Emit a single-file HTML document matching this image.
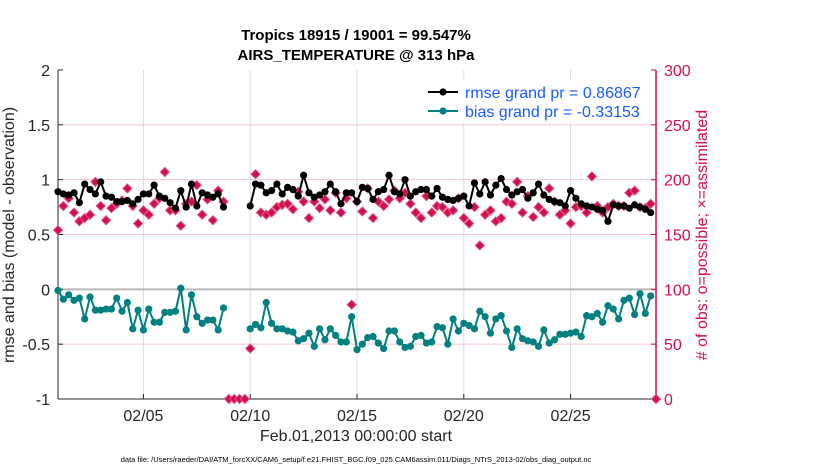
<!DOCTYPE html>
<html><head><meta charset="utf-8"><style>
body{margin:0;background:#fff;font-family:"Liberation Sans",sans-serif;}
</style></head><body>
<svg id="c" width="830" height="470" xmlns="http://www.w3.org/2000/svg" font-family="Liberation Sans, sans-serif"></svg>
<script>
const xTickLabels=["02/05","02/10","02/15","02/20","02/25"];
const xTickDays=[4,9,14,19,24];
const yLeftTicks=[-1,-0.5,0,0.5,1,1.5,2];
const yRightTicks=[0,50,100,150,200,250,300];
const rmse=[0.89,0.87,0.86,0.88,0.79,0.96,0.91,0.87,0.98,0.85,0.84,0.80,0.80,0.81,0.78,0.82,0.87,0.87,0.95,0.85,0.83,0.79,0.74,0.90,0.75,0.96,0.76,0.88,0.86,0.84,0.87,0.75,
null,null,null,null,
0.76,0.96,0.95,0.88,0.90,0.96,0.87,0.93,0.91,0.85,1.04,0.88,0.84,0.86,0.89,0.96,0.89,0.78,0.88,
0.88,0.80,0.93,0.92,0.82,0.89,0.91,1.04,0.89,0.87,1.00,0.85,0.89,0.91,0.91,0.85,0.92,0.84,0.82,0.81,0.83,0.85,0.76,0.97,0.87,0.98,0.86,0.95,1.01,0.91,0.86,0.89,0.91,0.83,0.88,0.96,0.86,0.82,0.80,0.79,0.76,0.90,0.83,0.78,0.76,0.75,0.73,0.72,0.62,0.77,0.76,0.76,0.74,0.77,0.75,0.73,0.70];
const bias=[-0.01,-0.09,-0.05,-0.10,-0.08,-0.27,-0.07,-0.19,-0.19,-0.18,-0.18,-0.08,-0.20,-0.12,-0.36,-0.19,-0.37,-0.18,-0.30,-0.30,-0.21,-0.21,-0.20,0.01,-0.37,-0.05,-0.25,-0.31,-0.28,-0.28,-0.37,-0.17,
null,null,null,null,
-0.36,-0.32,-0.35,-0.12,-0.31,-0.36,-0.36,-0.38,-0.39,-0.47,-0.45,-0.40,-0.52,-0.36,-0.46,-0.36,-0.42,-0.48,-0.48,-0.25,-0.55,
-0.50,-0.44,-0.43,-0.49,-0.54,-0.38,-0.38,-0.48,-0.53,-0.52,-0.43,-0.42,-0.49,-0.48,-0.34,-0.35,-0.50,-0.27,-0.38,-0.31,-0.33,-0.36,-0.20,-0.25,-0.40,-0.27,-0.24,-0.38,-0.53,-0.36,-0.45,-0.47,-0.48,-0.52,-0.37,-0.49,-0.46,-0.41,-0.41,-0.40,-0.39,-0.43,-0.24,-0.25,-0.22,-0.30,-0.15,-0.18,-0.27,-0.10,-0.08,-0.23,-0.04,-0.22,-0.06];
const obsCount=[154,176,183,170,162,165,168,198,176,163,174,178,181,192,176,160,172,168,178,183,207,172,172,158,178,180,195,168,182,163,190,180,
0,0,0,0,
46,205,170,168,170,175,177,178,173,189,180,165,180,174,182,172,188,170,183,86,180,
171,192,165,180,176,182,190,183,188,178,170,165,185,170,176,175,170,172,183,165,160,175,140,168,172,162,165,180,178,198,170,185,166,175,170,192,180,168,172,160,175,176,170,203,176,170,175,178,176,176,188,190,175,174,178,
0];
const S=document.getElementById('c');const NS='http://www.w3.org/2000/svg';
function mk(t,a,p){const e=document.createElementNS(NS,t);for(const k in a)e.setAttribute(k,a[k]);(p||S).appendChild(e);return e;}
const L=58,R=656,T=70,B=399;
const xS=d=>L+(d/28)*(R-L);
const yL=v=>B-(v+1)/3*(B-T);
const yR=v=>B-v/300*(B-T);
yRightTicks.forEach(v=>{if(v>0&&v<300){const g=mk('line',{x1:L,x2:R,y1:yR(v),y2:yR(v),stroke:'#f3c6d4','stroke-width':1});}});
xTickDays.forEach(d=>{const g=mk('line',{x1:xS(d),x2:xS(d),y1:T,y2:B,stroke:'#dcdcdc','stroke-width':1});});
const z=mk('line',{x1:L,x2:R,y1:yL(0),y2:yL(0),stroke:'#b8b8b8','stroke-width':2});

const ax=mk('line',{x1:L,x2:L,y1:T,y2:B,stroke:'#262626','stroke-width':1});
const bx=mk('line',{x1:L,x2:R,y1:B,y2:B,stroke:'#262626','stroke-width':1});
const rx=mk('line',{x1:R,x2:R,y1:T,y2:B,stroke:'#d0104c','stroke-width':1.5});
yLeftTicks.forEach(v=>{const y=yL(v);mk('line',{x1:L,x2:L+5,y1:y,y2:y,stroke:'#262626'});const t=mk('text',{x:L-8,y:y+6,'text-anchor':'end','font-size':16,fill:'#262626'});t.textContent=String(v);});
yRightTicks.forEach(v=>{const y=yR(v);mk('line',{x1:R-5,x2:R,y1:y,y2:y,stroke:'#d0104c'});const t=mk('text',{x:R+8,y:y+6,'font-size':16,fill:'#d0104c'});t.textContent=String(v);});
xTickDays.forEach((d,i)=>{mk('line',{x1:xS(d),x2:xS(d),y1:B,y2:B-5,stroke:'#262626'});const t=mk('text',{x:xS(d),y:B+22,'text-anchor':'middle','font-size':16,fill:'#262626'});t.textContent=xTickLabels[i];});
obsCount.forEach((v,i)=>{if(v==null)return;const x=xS(i*0.25),y=yR(v);const g=mk('path',{d:`M${x-4.5},${y}L${x},${y-4.5}L${x+4.5},${y}L${x},${y+4.5}Z`,fill:'#d0104c',stroke:'#e0507e','stroke-width':1});});
function series(arr,col,name){let segs=[],cur=[];arr.forEach((v,i)=>{if(v==null){if(cur.length)segs.push(cur);cur=[];}else cur.push([xS(i*0.25),yL(v)]);});if(cur.length)segs.push(cur);
segs.forEach(s=>{const p=mk('polyline',{points:s.map(q=>q.join(',')).join(' '),fill:'none',stroke:col,'stroke-width':2});
s.forEach(q=>{const c=mk('circle',{cx:q[0],cy:q[1],r:3.6,fill:col});});});}
series(bias,'#008080','bias');series(rmse,'#000','rmse');
const lg=mk('g',{});
mk('rect',{x:420,y:80,width:226,height:42,fill:'#fff',stroke:'none'},lg);
[['rmse grand pr = 0.86867','#000',92],['bias grand pr = -0.33153','#008080',111]].forEach(e=>{const g=mk('g',{},lg);mk('line',{x1:428,x2:458,y1:e[2],y2:e[2],stroke:e[1],'stroke-width':2},g);mk('circle',{cx:443,cy:e[2],r:3.6,fill:e[1]},g);const t=mk('text',{x:465,y:e[2]+6,'font-size':16,fill:'#1a5cff'},g);t.textContent=e[0];});
function txt(s,a,n){const t=mk('text',a);t.textContent=s;return t;}
txt('Tropics 18915 / 19001 = 99.547%',{x:356,y:40,'text-anchor':'middle','font-size':15,'font-weight':'bold',fill:'#000'},'chart-title');
txt('AIRS_TEMPERATURE @ 313 hPa',{x:356,y:60,'text-anchor':'middle','font-size':15,'font-weight':'bold',fill:'#000'},'chart-subtitle');
txt('Feb.01,2013 00:00:00 start',{x:356,y:441,'text-anchor':'middle','font-size':16,fill:'#262626'},'x-axis-title');
txt('rmse and bias (model - observation)',{x:0,y:0,'text-anchor':'middle','font-size':16,fill:'#262626',transform:'translate(14,235) rotate(-90)'},'y-left-axis-title');
txt('# of obs: o=possible; \u00d7=assimilated',{x:0,y:0,'text-anchor':'middle','font-size':16,fill:'#d0104c',transform:'translate(707,235) rotate(-90)'},'y-right-axis-title');
txt('data file: /Users/raeder/DAI/ATM_forcXX/CAM6_setup/f.e21.FHIST_BGC.f09_025.CAM6assim.011/Diags_NTrS_2013-02/obs_diag_output.nc',{x:356,y:462,'text-anchor':'middle','font-size':7.5,fill:'#000'},'data-file-note');
</script>
</body></html>
